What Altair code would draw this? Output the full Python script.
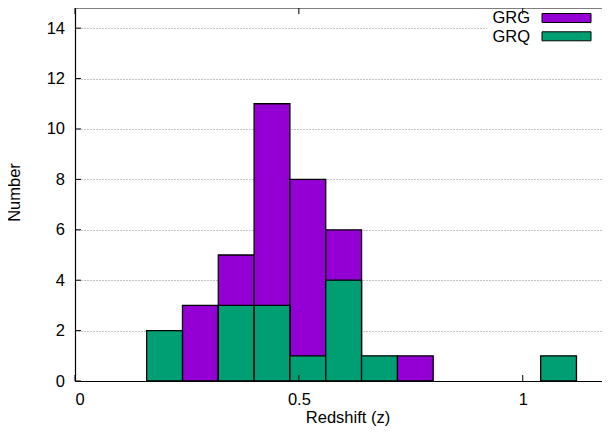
import altair as alt
import pandas as pd

# ---- data ----
bin_width = 0.08
grg_start = [0.24, 0.32, 0.40, 0.48, 0.56, 0.72]
grg_count = [3, 5, 11, 8, 6, 1]
grq_start = [0.16, 0.32, 0.40, 0.48, 0.56, 0.64, 1.04]
grq_count = [2, 3, 3, 1, 4, 1, 1]
series = ["GRG", "GRQ"]
colors = ["#9400d3", "#009e73"]
x_ticks = [0, 0.5, 1]
y_ticks = [0, 2, 4, 6, 8, 10, 12, 14]

W, H = 527, 373
FONT = "Liberation Sans"
FS = 16.5


def bars(starts, counts, name):
    return pd.DataFrame({
        "x0": starts,
        "x1": [s + bin_width for s in starts],
        "n": counts,
        "base": [0] * len(starts),
        "series": name,
    })


df = pd.concat([bars(grg_start, grg_count, series[0]),
                bars(grq_start, grq_count, series[1])], ignore_index=True)

xs = alt.Scale(domain=[0, 1.177], nice=False, zero=False)
ys = alt.Scale(domain=[0, 14.8], nice=False)

bar_layer = alt.Chart(df).mark_rect(stroke="black", strokeWidth=1.3).encode(
    x=alt.X("x0:Q", scale=xs, axis=alt.Axis(
        values=x_ticks, format="~g", title="Redshift (z)", ticks=False, grid=False,
        labelPadding=10, titleX=272.5, titleY=41, titleAlign="center",
        titleBaseline="alphabetic")),
    x2="x1:Q",
    y=alt.Y("n:Q", scale=ys, axis=alt.Axis(
        values=y_ticks, title="Number", ticks=False, grid=True,
        gridDash=[1, 2], gridColor="#888888", gridWidth=1,
        labelPadding=10.5, titleAngle=270, titleX=-56, titleY=184,
        titleAlign="center", titleBaseline="alphabetic")),
    y2="base:Q",
    color=alt.Color("series:N", scale=alt.Scale(domain=series, range=colors), legend=None),
)

# legend (gnuplot style: label left of swatch), white background box
leg_bg = alt.Chart(pd.DataFrame({"a": [0]})).mark_rect(fill="white").encode(
    x=alt.value(412), x2=alt.value(527), y=alt.value(2), y2=alt.value(38))

leg_layers = []
sw_y = [5.5, 23.8]
for name, col, yy in zip(series, colors, sw_y):
    ldf = pd.DataFrame({"label": [name]})
    leg_layers.append(alt.Chart(ldf).mark_text(
        align="right", baseline="middle", font=FONT, fontSize=FS, color="black").encode(
        x=alt.value(455), y=alt.value(yy + 4.8), text="label:N"))
    leg_layers.append(alt.Chart(ldf).mark_rect(fill=col, stroke="black", strokeWidth=1).encode(
        x=alt.value(467), x2=alt.value(516), y=alt.value(yy), y2=alt.value(yy + 9)))

# frame top line
top_line = alt.Chart(pd.DataFrame({"a": [0]})).mark_rule(color="black", strokeWidth=1.2).encode(
    x=alt.value(0), x2=alt.value(W), y=alt.value(0))

# inward ticks
ytdf = pd.DataFrame({"v": y_ticks})
xtdf = pd.DataFrame({"v": x_ticks})
left_ticks = alt.Chart(ytdf).mark_rule(color="black", strokeWidth=1).encode(
    x=alt.value(0), x2=alt.value(6), y=alt.Y("v:Q", scale=ys))
bottom_ticks = alt.Chart(xtdf).mark_rule(color="black", strokeWidth=1).encode(
    x=alt.X("v:Q", scale=xs), y=alt.value(H), y2=alt.value(H - 6))
top_ticks = alt.Chart(xtdf).mark_rule(color="black", strokeWidth=1).encode(
    x=alt.X("v:Q", scale=xs), y=alt.value(0), y2=alt.value(6))

chart = alt.layer(bar_layer, leg_bg, *leg_layers, top_line,
                  left_ticks, bottom_ticks, top_ticks).properties(
    width=W, height=H,
    autosize=alt.AutoSizeParams(type="none"),
    padding={"left": 67, "top": 0, "right": 0, "bottom": 45},
).configure_view(stroke=None).configure_axis(
    labelFont=FONT, titleFont=FONT, labelFontSize=FS, titleFontSize=FS,
    labelColor="black", titleColor="black", titleFontWeight="normal",
    domainColor="black", domainWidth=1.2,
)

chart.save("out.html", embed_options={"renderer": "svg", "actions": False})
